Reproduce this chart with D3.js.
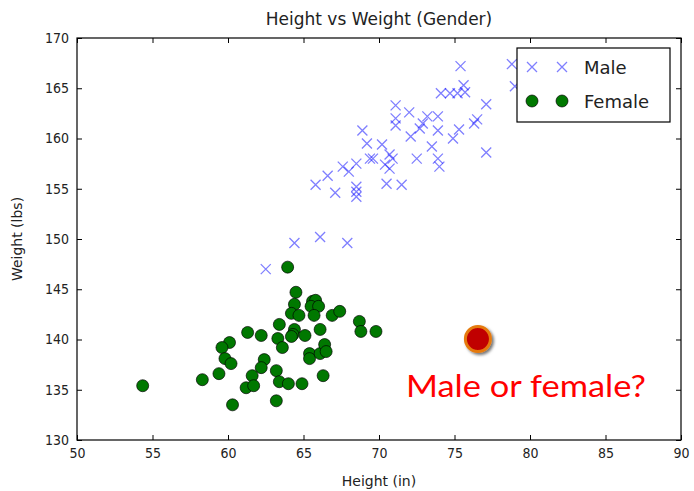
<!DOCTYPE html>
<html>
<head>
<meta charset="utf-8">
<script src="https://cdn.jsdelivr.net/npm/d3@7"></script>
<style>
  body { margin: 0; background: #fff; }
  text { font-family: "DejaVu Sans", sans-serif; fill: #222; }
</style>
</head>
<body>
<script>
"use strict";
var svg_width = 694;
var svg_height = 491;

// height (in), weight (lbs)
var male_height = [75.4, 78.8, 79.0, 74.1, 74.7, 75.2, 75.6, 75.7, 77.1, 71.1, 71.1, 71.1, 72.0, 73.2,
    73.9, 72.9, 72.7, 73.9, 72.1, 75.3, 74.9, 76.3, 76.5, 77.1, 68.9, 69.2, 70.2, 69.4, 69.6, 70.7,
    70.9, 70.4, 70.7, 72.5, 73.5, 73.9, 74.0, 67.6, 68.0, 68.5, 66.6, 65.8, 67.1, 68.5, 68.5, 68.5,
    70.5, 71.5, 64.4, 66.1, 67.9, 62.5];
var male_weight = [167.2, 167.4, 165.2, 164.5, 164.5, 164.5, 165.3, 164.6, 163.4, 163.3, 162.0, 161.3, 162.6, 162.2,
    162.2, 161.5, 161.0, 160.8, 160.2, 160.9, 160.0, 161.5, 161.9, 158.6, 160.8, 159.5, 159.4, 158.0, 158.0, 158.4,
    158.0, 157.4, 157.0, 158.0, 159.2, 158.0, 157.2, 157.2, 156.7, 157.5, 156.3, 155.4, 154.6, 155.2, 154.7, 154.2,
    155.5, 155.4, 149.6, 150.2, 149.6, 147.0];

var female_height = [63.95, 64.5, 64.4, 64.2, 64.7, 65.6, 65.8, 65.5, 66.0, 65.7, 66.9, 67.4, 68.7, 68.8,
    69.8, 63.4, 64.4, 64.3, 64.2, 65.1, 66.1, 63.3, 63.6, 61.3, 62.2, 60.1, 59.6, 59.8, 60.2, 62.4,
    62.2, 63.2, 61.6, 61.2, 61.7, 63.4, 64.0, 64.9, 66.3, 65.4, 65.4, 66.1, 66.4, 66.5, 59.4, 58.3,
    60.3, 63.2, 54.35];
var female_weight = [147.2, 144.7, 143.5, 142.6, 142.4, 143.8, 143.9, 143.3, 143.3, 142.4, 142.4, 142.8, 141.8, 140.8,
    140.8, 141.5, 141.0, 140.5, 140.3, 140.4, 141.0, 140.1, 139.2, 140.7, 140.4, 139.7, 139.2, 138.1, 137.6, 138.0,
    137.2, 136.9, 136.4, 135.2, 135.4, 135.8, 135.6, 135.6, 136.4, 138.6, 138.1, 138.6, 139.5, 138.8, 136.6, 136.0,
    133.5, 133.9, 135.4];

var query_point = [76.55, 140.05];
var x_ticks = [50, 55, 60, 65, 70, 75, 80, 85, 90];
var y_ticks = [130, 135, 140, 145, 150, 155, 160, 165, 170];
var legend_labels = ["Male", "Female"];

var plot_left = 77, plot_right = 681, plot_top = 38, plot_bottom = 440;

var xscale = d3.scaleLinear().domain([50, 90]).range([plot_left, plot_right]);
var yscale = d3.scaleLinear().domain([130, 170]).range([plot_bottom, plot_top]);

var svg = d3.select("body").append("svg")
    .attr("width", svg_width)
    .attr("height", svg_height);

var defs = svg.append("defs");
var shadow = defs.append("filter").attr("id", "shadow")
    .attr("x", "-50%").attr("y", "-50%").attr("width", "200%").attr("height", "200%");
shadow.append("feDropShadow")
    .attr("dx", 2).attr("dy", 2).attr("stdDeviation", 1.6)
    .attr("flood-color", "#000").attr("flood-opacity", 0.55);

//---axes, matplotlib classic style: ticks inside on all four sides
function styleAxis(g)
{
    g.select(".domain").remove();
    g.selectAll(".tick line").attr("stroke", "#000").attr("stroke-width", 1);
    g.selectAll(".tick text").style("font-family", "'DejaVu Sans Condensed', 'DejaVu Sans', sans-serif")
        .style("font-size", "14px").attr("fill", "#222");
}
svg.append("g")
    .attr("transform", "translate(0," + plot_bottom + ")")
    .call(d3.axisBottom(xscale).tickValues(x_ticks).tickSize(-5).tickPadding(8).tickFormat(d3.format("d")))
    .call(styleAxis);
svg.append("g")
    .attr("transform", "translate(0," + plot_top + ")")
    .call(d3.axisTop(xscale).tickValues(x_ticks).tickSize(-5).tickFormat(""))
    .call(styleAxis);
svg.append("g")
    .attr("transform", "translate(" + plot_left + ",0)")
    .call(d3.axisLeft(yscale).tickValues(y_ticks).tickSize(-5).tickPadding(8).tickFormat(d3.format("d")))
    .call(styleAxis);
svg.append("g")
    .attr("transform", "translate(" + plot_right + ",0)")
    .call(d3.axisRight(yscale).tickValues(y_ticks).tickSize(-5).tickFormat(""))
    .call(styleAxis);

svg.append("rect")
    .attr("x", plot_left).attr("y", plot_top)
    .attr("width", plot_right - plot_left).attr("height", plot_bottom - plot_top)
    .attr("fill", "none").attr("stroke", "#000").attr("stroke-width", 1.2);

function crossPath(cx, cy, s)
{
    return "M" + (cx - s) + "," + (cy - s) + "L" + (cx + s) + "," + (cy + s) +
        "M" + (cx - s) + "," + (cy + s) + "L" + (cx + s) + "," + (cy - s);
}

var male = male_height.map(function(h, i) { return [h, male_weight[i]]; });
var female = female_height.map(function(h, i) { return [h, female_weight[i]]; });

svg.append("g").selectAll("path")
    .data(male)
    .enter()
    .append("path")
    .attr("d", function(d) { return crossPath(xscale(d[0]), yscale(d[1]), 5); })
    .attr("stroke", "#0000ff")
    .attr("stroke-opacity", 0.5)
    .attr("stroke-width", 1.3)
    .attr("fill", "none");

svg.append("g").selectAll("circle")
    .data(female)
    .enter()
    .append("circle")
    .attr("cx", function(d) { return xscale(d[0]); })
    .attr("cy", function(d) { return yscale(d[1]); })
    .attr("r", 6)
    .attr("fill", "#007800")
    .attr("stroke", "#000")
    .attr("stroke-opacity", 0.75)
    .attr("stroke-width", 0.9);

//---the unknown point
svg.append("circle")
    .attr("cx", xscale(query_point[0]))
    .attr("cy", yscale(query_point[1]))
    .attr("r", 12.5)
    .attr("fill", "#c00000")
    .attr("stroke", "#e57a10")
    .attr("stroke-width", 3)
    .attr("filter", "url(#shadow)");

svg.append("text")
    .attr("x", 526)
    .attr("y", 397)
    .attr("text-anchor", "middle")
    .attr("textLength", 240)
    .attr("lengthAdjust", "spacingAndGlyphs")
    .style("font-family", "Lato, 'Open Sans', sans-serif")
    .style("font-size", "30px")
    .style("fill", "#ff0000")
    .text("Male or female?");

//---legend
var legend = svg.append("g");
legend.append("rect")
    .attr("x", 517).attr("y", 48).attr("width", 153).attr("height", 74)
    .attr("fill", "#fff").attr("stroke", "#000").attr("stroke-width", 1.2);
legend_labels.forEach(function(label, i)
{
    var ly = 67 + i * 34;
    [532, 562].forEach(function(lx)
    {
        if(i == 0)
        {
            legend.append("path")
                .attr("d", crossPath(lx, ly, 5))
                .attr("stroke", "#0000ff").attr("stroke-opacity", 0.5)
                .attr("stroke-width", 1.3).attr("fill", "none");
        }
        else
        {
            legend.append("circle")
                .attr("cx", lx).attr("cy", ly).attr("r", 6)
                .attr("fill", "#007800").attr("stroke", "#000")
                .attr("stroke-opacity", 0.75).attr("stroke-width", 0.9);
        }
    });
    legend.append("text")
        .attr("x", 584).attr("y", ly + 6.5)
        .style("font-size", "18px")
        .text(label);
});

svg.append("text")
    .attr("x", (plot_left + plot_right) / 2)
    .attr("y", 25)
    .attr("text-anchor", "middle")
    .style("font-size", "17px")
    .text("Height vs Weight (Gender)");

svg.append("text")
    .attr("x", (plot_left + plot_right) / 2)
    .attr("y", 486)
    .attr("text-anchor", "middle")
    .style("font-size", "14px")
    .text("Height (in)");

svg.append("text")
    .attr("transform", "translate(22," + ((plot_top + plot_bottom) / 2) + ") rotate(-90)")
    .attr("text-anchor", "middle")
    .style("font-size", "14px")
    .text("Weight (lbs)");
</script>
</body>
</html>
